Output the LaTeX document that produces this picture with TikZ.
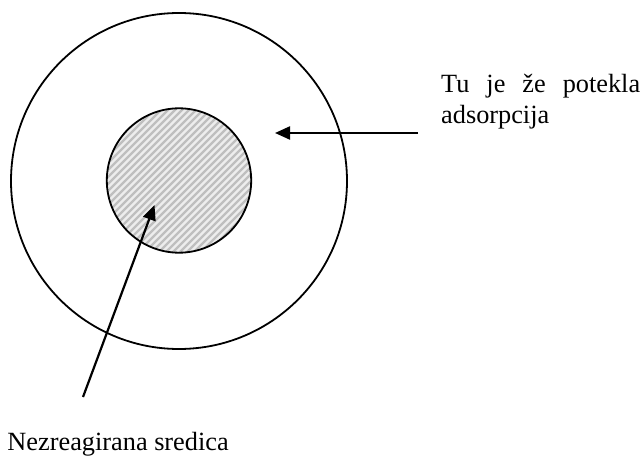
\documentclass[tikz,border=0pt]{standalone}
\usepackage{fontspec}
\setmainfont{Liberation Serif}
\usetikzlibrary{arrows.meta}
\begin{document}
\begin{tikzpicture}[x=1pt,y=-1pt,
  ring/.style={circle, draw=black, line width=1.8pt, inner sep=0pt, outer sep=0pt},
  pointer/.style={line width=2.2pt, -{Triangle[length=15pt,width=13pt]}},
  lbl/.style={inner sep=0pt, anchor=base west, font=\fontsize{26.3}{31.5}\selectfont},
  hatchline/.style={draw=gray!50, line width=2.2pt}]
\useasboundingbox (0,0) rectangle (643,457);
% hatching of the core
\begin{scope}
  \clip (179,180.5) circle[radius=72.2pt];
  \fill[gray!14] (100,100) rectangle (260,260);
  \foreach \s in {-68,-61,...,275} {
    \draw[hatchline] (\s,262) -- (\s+164,98);
  }
\end{scope}
\node[ring, minimum size=336pt] (outer) at (179,181) {};
\node[ring, minimum size=144.4pt] (inner) at (179,180.5) {};
% labels
\node[lbl] (t1) at (441,92.7) {\makebox[199pt][s]{Tu je že potekla}};
\node[lbl] (t2) at (441,124) {adsorpcija};
\node[lbl] (t3) at (7.3,450.7) {Nezreagirana sredica};
% arrows
\coordinate (a1s) at (418,133);
\coordinate (a1e) at (275,133);
\coordinate (a2s) at (83,397);
\coordinate (a2e) at (154.5,205);
\draw[pointer] (a1s) -- (a1e);
\draw[pointer] (a2s) -- (a2e);
\end{tikzpicture}
\end{document}
